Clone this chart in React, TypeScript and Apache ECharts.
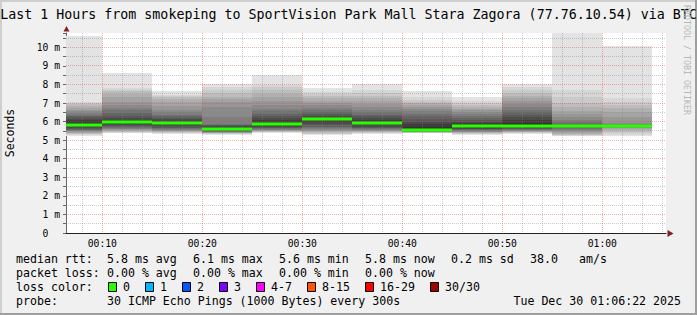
import React, { useEffect, useRef } from "react";
import * as echarts from "echarts";

// ---------- data ----------
const titleText =
  "Last 1 Hours from smokeping to SportVision Park Mall Stara Zagora (77.76.10.54) via BTC";

// time window (minutes after 00:00)
const windowStartMinutes = 6 + 22 / 60; // 00:06:22
const windowEndMinutes = 66 + 22 / 60; // 01:06:22
const yMaxMs = 10.77;

// each 5‑minute step ends at these minutes
const stepEndMinutes = [10, 15, 20, 25, 30, 35, 40, 45, 50, 55, 60, 65];
const stepLengthMinutes = 5;

const medianRttMs = [5.79, 5.99, 5.93, 5.61, 5.86, 6.12, 5.9, 5.56, 5.74, 5.74, 5.76, 5.76];

// 30 sorted ping round trip times per step (ms)
const sortedPingsMs = [
  [5.2, 5.27, 5.31, 5.35, 5.38, 5.41, 5.44, 5.47, 5.5, 5.53, 5.57, 5.62, 5.68, 5.75, 5.85, 5.95, 6.08, 6.15, 6.22, 6.3, 6.38, 6.45, 6.55, 6.65, 6.75, 6.85, 6.92, 7.0, 7.07, 10.6],
  [5.36, 5.4, 5.43, 5.46, 5.49, 5.52, 5.55, 5.58, 5.62, 5.66, 5.7, 5.75, 5.8, 5.85, 5.92, 6.02, 6.08, 6.18, 6.3, 6.45, 6.6, 6.75, 6.9, 7.07, 7.3, 7.5, 7.62, 7.7, 7.79, 8.63],
  [5.31, 5.36, 5.4, 5.43, 5.46, 5.48, 5.51, 5.54, 5.57, 5.6, 5.63, 5.68, 5.74, 5.8, 5.88, 5.98, 6.05, 6.12, 6.2, 6.28, 6.38, 6.5, 6.65, 6.85, 7.05, 7.2, 7.3, 7.38, 7.45, 7.64],
  [5.3, 5.33, 5.35, 5.37, 5.39, 5.4, 5.41, 5.42, 5.44, 5.46, 5.48, 5.5, 5.53, 5.56, 5.6, 5.68, 5.72, 5.76, 5.79, 5.82, 5.85, 6.27, 6.8, 7.07, 7.2, 7.35, 7.52, 7.7, 7.84, 8.02],
  [5.39, 5.42, 5.44, 5.46, 5.48, 5.5, 5.52, 5.54, 5.57, 5.6, 5.63, 5.67, 5.72, 5.78, 5.85, 5.95, 6.08, 6.18, 6.28, 6.4, 6.55, 6.7, 6.9, 7.1, 7.3, 7.5, 7.7, 7.85, 7.97, 8.51],
  [5.27, 5.31, 5.35, 5.39, 5.43, 5.47, 5.51, 5.55, 5.6, 5.66, 5.72, 5.8, 5.88, 5.98, 6.08, 6.15, 6.2, 6.3, 6.4, 6.5, 6.62, 6.75, 6.88, 7.0, 7.12, 7.25, 7.38, 7.5, 7.6, 7.79],
  [5.32, 5.36, 5.39, 5.42, 5.44, 5.47, 5.5, 5.53, 5.56, 5.59, 5.63, 5.68, 5.73, 5.8, 5.88, 5.98, 6.08, 6.18, 6.28, 6.38, 6.5, 6.65, 6.8, 6.95, 7.1, 7.25, 7.4, 7.55, 7.7, 8.02],
  [5.36, 5.38, 5.4, 5.41, 5.42, 5.43, 5.44, 5.45, 5.46, 5.47, 5.48, 5.5, 5.52, 5.54, 5.58, 5.7, 5.85, 6.0, 6.15, 6.3, 6.42, 6.55, 6.7, 6.8, 6.9, 6.98, 7.05, 7.15, 7.3, 7.64],
  [5.27, 5.31, 5.34, 5.37, 5.4, 5.42, 5.44, 5.46, 5.49, 5.52, 5.55, 5.58, 5.62, 5.67, 5.74, 5.82, 5.92, 6.0, 6.1, 6.2, 6.3, 6.4, 6.5, 6.6, 6.7, 6.8, 6.9, 7.0, 7.1, 7.34],
  [5.35, 5.38, 5.4, 5.42, 5.44, 5.46, 5.48, 5.5, 5.52, 5.55, 5.58, 5.62, 5.66, 5.72, 5.8, 5.95, 6.1, 6.22, 6.35, 6.5, 6.65, 6.8, 6.95, 7.1, 7.25, 7.4, 7.55, 7.7, 7.85, 8.02],
  [5.21, 5.24, 5.27, 5.3, 5.33, 5.37, 5.42, 5.48, 5.55, 5.62, 5.68, 5.7, 5.72, 5.74, 5.76, 5.78, 5.8, 5.82, 5.84, 5.88, 5.97, 6.1, 6.27, 6.42, 6.58, 6.8, 7.0, 7.35, 7.72, 11.2],
  [5.21, 5.3, 5.38, 5.45, 5.52, 5.6, 5.66, 5.68, 5.7, 5.71, 5.72, 5.73, 5.74, 5.75, 5.76, 5.77, 5.78, 5.79, 5.8, 5.81, 5.83, 5.85, 5.9, 6.27, 6.5, 6.75, 6.9, 7.05, 7.25, 10.07],
];

const xLabelMinutes = [10, 20, 30, 40, 50, 60];
const xLabelTexts = ["00:10", "00:20", "00:30", "00:40", "00:50", "01:00"];
const xMinorGridMinutes = [8, 12, 14, 16, 18, 22, 24, 26, 28, 32, 34, 36, 38, 42, 44, 46, 48, 52, 54, 56, 58, 62, 64, 66];
const yMajorGridMs = [1, 2, 3, 4, 5, 6, 7, 8, 9, 10];
const yMinorGridMs = [0.5, 1.5, 2.5, 3.5, 4.5, 5.5, 6.5, 7.5, 8.5, 9.5, 10.5];

const rttStats = ["median rtt:", "5.8 ms avg", "6.1 ms max", "5.6 ms min", "5.8 ms now", "0.2 ms sd", "38.0", "am/s"];
const lossStats = ["packet loss:", "0.00 % avg", "0.00 % max", "0.00 % min", "0.00 % now"];
const lossColorTitle = "loss color:";
const lossLabels = ["0", "1", "2", "3", "4-7", "8-15", "16-29", "30/30"];
const lossColors = ["#26ff00", "#00b8ff", "#0059ff", "#7e00ff", "#ff00ff", "#ff5500", "#ff0000", "#a10000"];
const probeTexts = ["probe:", "30 ICMP Echo Pings (1000 Bytes) every 300s"];
const timestampText = "Tue Dec 30 01:06:22 2025";
const watermarkText = "RRDTOOL / TOBI OETIKER";

// ---------- layout / style ----------
const MONO = "'DejaVu Sans Mono', monospace";
const statsX = [16, 107, 193, 279, 365, 451, 530, 579];
const lossBoxX = [108, 145, 182, 219, 256, 307, 365, 430];

function buildOption() {
  const smokeData: number[][] = [];
  sortedPingsMs.forEach((p, b) => {
    const end = stepEndMinutes[b];
    const start = end - stepLengthMinutes;
    const n = p.length;
    const half = n / 2;
    for (let ibot = 1, itop = n; itop > ibot; ibot++, itop--) {
      const shade = Math.floor((190 / half) * (half - ibot)) + 50;
      smokeData.push([start, end, p[ibot - 1], p[itop - 1], shade]);
    }
  });
  const medianData = medianRttMs.map((m, i) => [stepEndMinutes[i] - stepLengthMinutes, stepEndMinutes[i], m]);
  const gridData: number[][] = [];
  xMinorGridMinutes.forEach((v) => gridData.push([0, v, 0]));
  yMinorGridMs.forEach((v) => gridData.push([1, v, 0]));
  xLabelMinutes.forEach((v) => gridData.push([0, v, 1]));
  yMajorGridMs.forEach((v) => gridData.push([1, v, 1]));

  const csRect = (params: any) => ({
    x: params.coordSys.x,
    y: params.coordSys.y,
    width: params.coordSys.width,
    height: params.coordSys.height,
  });

  const graphics: any[] = [];
  // frame
  graphics.push({ type: "rect", shape: { x: 0, y: 0, width: 697, height: 2 }, style: { fill: "#cfcfcf" }, silent: true });
  graphics.push({ type: "rect", shape: { x: 0, y: 0, width: 2, height: 315 }, style: { fill: "#cfcfcf" }, silent: true });
  graphics.push({ type: "rect", shape: { x: 0, y: 313, width: 697, height: 2 }, style: { fill: "#9e9e9e" }, silent: true });
  graphics.push({ type: "rect", shape: { x: 695, y: 0, width: 2, height: 315 }, style: { fill: "#9e9e9e" }, silent: true });
  // title
  graphics.push({
    type: "text", x: 348.5, y: 14, silent: true,
    style: { text: titleText, align: "center", verticalAlign: "middle", font: `13.3px ${MONO}`, fill: "#000" },
  });
  // y axis name
  graphics.push({
    type: "text", x: 10, y: 133, rotation: Math.PI / 2, silent: true,
    style: { text: "Seconds", align: "center", verticalAlign: "middle", font: `11.5px ${MONO}`, fill: "#000" },
  });
  // watermark
  graphics.push({
    type: "text", x: 687, y: 60, rotation: -Math.PI / 2, silent: true,
    style: { text: watermarkText, align: "center", verticalAlign: "middle", font: `8.3px ${MONO}`, fill: "#b8b8b8" },
  });
  // arrows
  graphics.push({ type: "polygon", shape: { points: [[63.5, 31.5], [69.5, 31.5], [66.5, 26]] }, style: { fill: "#7f1f1f" }, silent: true });
  graphics.push({ type: "polygon", shape: { points: [[667.5, 230], [667.5, 237], [673.5, 233.5]] }, style: { fill: "#7f1f1f" }, silent: true });
  // legend rows
  const rowY = [259.3, 273.3, 287.3, 301];
  const txt = (text: string, x: number, y: number, align = "left") => ({
    type: "text", x, y, silent: true,
    style: { text, align, verticalAlign: "middle", font: `11.6px ${MONO}`, fill: "#000" },
  });
  rttStats.forEach((t, i) => graphics.push(txt(t, statsX[i], rowY[0])));
  lossStats.forEach((t, i) => graphics.push(txt(t, statsX[i], rowY[1])));
  graphics.push(txt(lossColorTitle, statsX[0], rowY[2]));
  lossLabels.forEach((t, i) => {
    graphics.push({
      type: "rect", silent: true,
      shape: { x: lossBoxX[i] + 0.5, y: 282.5, width: 8, height: 9 },
      style: { fill: lossColors[i], stroke: "#000", lineWidth: 1 },
    });
    graphics.push(txt(t, lossBoxX[i] + 15, rowY[2]));
  });
  graphics.push(txt(probeTexts[0], statsX[0], rowY[3]));
  graphics.push(txt(probeTexts[1], statsX[1], rowY[3]));
  graphics.push(txt(timestampText, 681, rowY[3], "right"));

  return {
    animation: false,
    backgroundColor: "#f0f0f0",
    grid: { left: 66, top: 33, width: 600, height: 200, show: true, backgroundColor: "#ffffff", borderWidth: 0 },
    xAxis: {
      type: "value",
      min: windowStartMinutes,
      max: windowEndMinutes,
      axisLine: { show: true, lineStyle: { color: "#222", width: 1 } },
      axisTick: { show: false },
      splitLine: { show: false },
      axisLabel: {
        customValues: xLabelMinutes,
        formatter: (v: number) => {
          const i = xLabelMinutes.findIndex((m) => Math.abs(m - v) < 1e-6);
          return i >= 0 ? xLabelTexts[i] : "";
        },
        fontFamily: MONO,
        fontSize: 9.7,
        color: "#000",
        margin: 5,
      },
    },
    yAxis: {
      type: "value",
      min: 0,
      max: yMaxMs,
      interval: 1,
      axisLine: { show: true, lineStyle: { color: "#666", width: 1 } },
      axisTick: { show: true, length: 3, lineStyle: { color: "#666" } },
      minorTick: { show: true, splitNumber: 2, length: 3, lineStyle: { color: "#666" } },
      splitLine: { show: false },
      axisLabel: {
        showMaxLabel: false,
        formatter: (v: number) => {
          if (Math.abs(v - Math.round(v)) > 1e-6) return "";
          const r = Math.round(v);
          return r === 0 ? "{z|0}" : `${r} m`;
        },
        rich: { z: { padding: [0, 11.7, 0, 0], fontFamily: MONO, fontSize: 9.7, color: "#000" } },
        fontFamily: MONO,
        fontSize: 9.7,
        color: "#000",
        margin: 6,
      },
    },
    series: [
      {
        type: "custom",
        name: "smoke",
        data: smokeData,
        encode: { x: [0, 1], y: [2, 3] },
        silent: true,
        renderItem: (params: any, api: any) => {
          const a = api.coord([api.value(0), api.value(3)]);
          const b = api.coord([api.value(1), api.value(2)]);
          const x0 = Math.round(a[0]);
          const x1 = Math.round(b[0]);
          const y0 = Math.round(a[1]);
          const y1 = Math.round(b[1]);
          if (y1 - y0 <= 0) return null;
          const shape = echarts.graphic.clipRectByRect({ x: x0, y: y0, width: x1 - x0, height: y1 - y0 }, csRect(params));
          if (!shape) return null;
          const h = Number(api.value(4)).toString(16).padStart(2, "0");
          return { type: "rect", shape, style: { fill: `#${h}${h}${h}` } };
        },
      },
      {
        type: "custom",
        name: "grid",
        data: gridData,
        silent: true,
        renderItem: (params: any, api: any) => {
          const kind = api.value(0);
          const v = api.value(1);
          const major = api.value(2);
          const cs = params.coordSys;
          let shape;
          if (kind === 0) {
            const p = api.coord([v, 0]);
            const x = Math.floor(p[0]) + 0.5;
            shape = { x1: x, y1: cs.y, x2: x, y2: cs.y + cs.height };
          } else {
            const p = api.coord([windowStartMinutes, v]);
            const y = Math.floor(p[1]) + 0.5;
            shape = { x1: cs.x, y1: y, x2: cs.x + cs.width, y2: y };
          }
          return {
            type: "line",
            shape,
            style: {
              stroke: major ? "rgba(222,70,70,0.42)" : "rgba(130,130,130,0.42)",
              lineWidth: 1,
              lineDash: [1, 1],
            },
          };
        },
      },
      {
        type: "custom",
        name: "median",
        data: medianData,
        encode: { x: [0, 1], y: [2] },
        silent: true,
        renderItem: (params: any, api: any) => {
          const a = api.coord([api.value(0), api.value(2)]);
          const b = api.coord([api.value(1), api.value(2)]);
          const x0 = Math.round(a[0]);
          const x1 = Math.round(b[0]);
          const yc = Math.round(a[1]);
          const shape = echarts.graphic.clipRectByRect({ x: x0, y: yc - 1.5, width: x1 - x0, height: 3 }, csRect(params));
          if (!shape) return null;
          return { type: "rect", shape, style: { fill: lossColors[0] } };
        },
      },
    ],
    graphic: graphics,
  };
}

export default function App() {
  const ref = useRef<HTMLDivElement>(null);
  useEffect(() => {
    document.body.style.margin = "0";
    if (!ref.current) return;
    const chart = echarts.init(ref.current, undefined, { renderer: "svg" });
    chart.setOption(buildOption() as any);
    return () => chart.dispose();
  }, []);
  return <div ref={ref} style={{ width: 697, height: 315 }} />;
}
